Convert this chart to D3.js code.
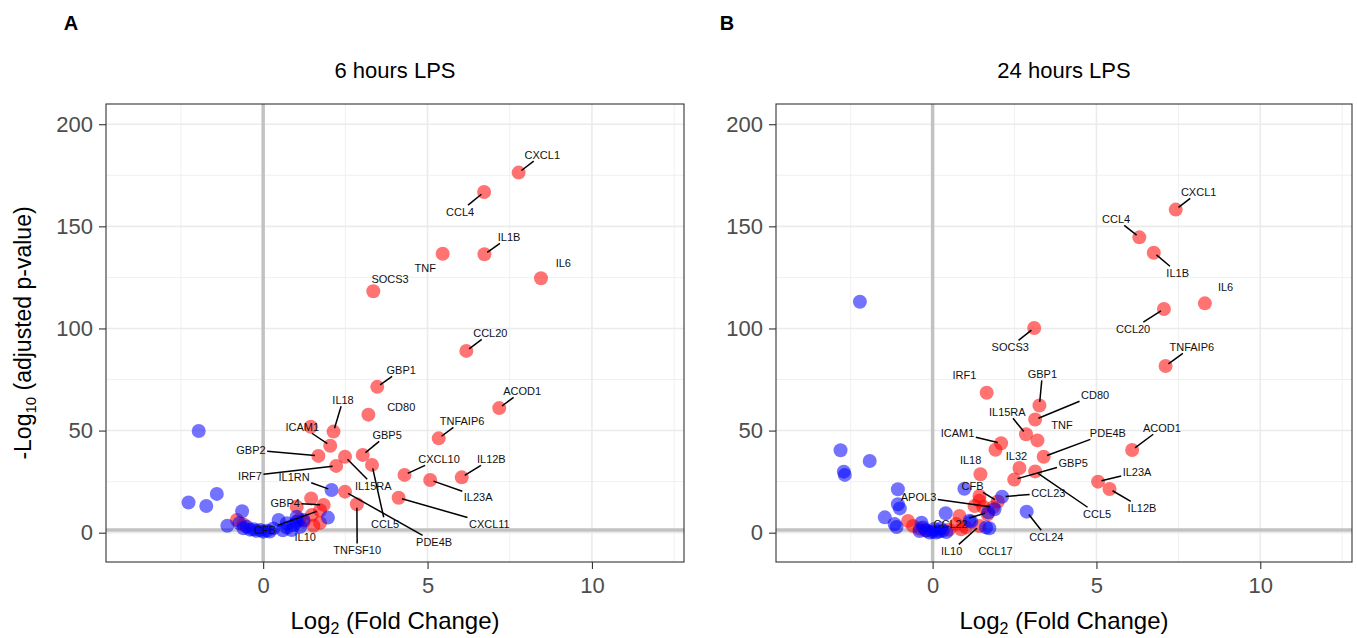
<!DOCTYPE html>
<html>
<head>
<meta charset="utf-8">
<script src="https://cdn.jsdelivr.net/npm/d3@7"></script>
<style>
  html, body { margin: 0; padding: 0; background: #ffffff; }
  svg { display: block; font-family: "Liberation Sans", Arial, Helvetica, sans-serif; }
</style>
</head>
<body>
<svg id="chart" width="1357" height="638"></svg>
<script>
// ---------------- DATA ----------------
const panelTitles = ["6 hours LPS", "24 hours LPS"];
const panelLetters = ["A", "B"];
const xTicks = [0, 5, 10];
const yTicks = [0, 50, 100, 150, 200];
const xMinorTicks = [-2.5, 2.5, 7.5, 12.5];
const yMinorTicks = [25, 75, 125, 175];
const pThreshold = 1.3; // -log10(0.05)

// labelled genes: [gene, log2FC, -log10 padj, group, label log2FC, label -log10 padj]
const labeled6h = [
  ["CXCL1", 7.77, 176.3, "r", 8.49, 185.0],
  ["CCL4", 6.72, 166.8, "r", 5.99, 157.1],
  ["TNF", 5.46, 136.6, "r", 4.93, 129.6],
  ["IL1B", 6.73, 136.3, "r", 7.48, 144.8],
  ["IL6", 8.45, 124.6, "r", 9.13, 132.1],
  ["SOCS3", 3.35, 118.2, "r", 3.86, 124.2],
  ["CCL20", 6.18, 89.0, "r", 6.91, 97.8],
  ["GBP1", 3.47, 71.4, "r", 4.20, 79.7],
  ["ACOD1", 7.18, 61.0, "r", 7.88, 69.4],
  ["CD80", 3.20, 57.8, "r", 4.20, 61.6],
  ["IL18", 2.14, 49.5, "r", 2.43, 65.0],
  ["ICAM1", 2.04, 42.6, "r", 1.19, 51.8],
  ["TNFAIP6", 5.34, 46.2, "r", 6.05, 54.7],
  ["GBP2", 1.68, 37.6, "r", -0.37, 40.5],
  ["GBP5", 3.03, 38.1, "r", 3.77, 47.8],
  ["IL15RA", 2.49, 37.2, "r", 3.35, 22.9],
  ["CCL5", 3.31, 33.2, "r", 3.71, 4.3],
  ["IRF7", 2.22, 32.7, "r", -0.40, 27.8],
  ["IL1RN", 2.08, 20.9, "b", 0.94, 27.3],
  ["PDE4B", 2.49, 20.1, "r", 5.20, -4.6],
  ["TNFSF10", 2.85, 13.9, "r", 2.86, -8.5],
  ["CXCL10", 4.30, 28.3, "r", 5.35, 36.1],
  ["IL12B", 6.04, 27.1, "r", 6.94, 36.1],
  ["IL23A", 5.08, 25.8, "r", 6.54, 17.5],
  ["CXCL11", 4.12, 17.1, "r", 6.88, 4.3],
  ["GBP4", 1.84, 13.6, "r", 0.67, 14.5],
  ["CFB", 1.73, 11.0, "r", 0.06, 1.3],
  ["IL10", 1.53, 3.4, "r", 1.28, -2.1]
];
const noSegment6h = ["TNF", "IL6", "SOCS3", "CD80", "IL10"];

// unlabelled genes: [log2FC, -log10 padj, group]
const other6h = [
  [1.45, 51.9, "r"], [1.46, 16.8, "r"], [1.02, 12.7, "r"], [1.23, 5.4, "r"],
  [1.48, 8.7, "r"], [1.73, 4.8, "r"], [1.10, 6.5, "r"], [-0.80, 6.2, "r"],
  [-0.60, 4.0, "r"],
  [-1.96, 49.8, "b"], [-2.27, 14.8, "b"], [-1.73, 13.1, "b"], [-1.41, 19.0, "b"],
  [-0.64, 10.5, "b"], [-1.09, 3.4, "b"], [1.97, 7.4, "b"], [0.47, 6.2, "b"],
  [0.72, 2.5, "b"], [1.02, 7.8, "b"], [0.93, 3.8, "b"], [1.13, 2.9, "b"],
  [0.87, 1.3, "b"], [0.72, 4.6, "b"], [1.23, 6.2, "b"], [-0.72, 4.6, "b"],
  [-0.60, 2.2, "b"], [-0.50, 2.9, "b"], [-0.40, 1.5, "b"], [-0.30, 1.7, "b"],
  [-0.20, 0.9, "b"], [-0.09, 1.3, "b"], [0.00, 0.5, "b"], [0.11, 1.0, "b"],
  [0.20, 0.6, "b"], [0.31, 2.1, "b"], [0.60, 1.2, "b"], [1.02, 5.4, "b"]
];

const labeled24h = [
  ["CXCL1", 7.42, 158.2, "r", 8.12, 166.8],
  ["CCL4", 6.31, 144.6, "r", 5.60, 153.6],
  ["IL1B", 6.75, 137.1, "r", 7.48, 127.2],
  ["IL6", 8.31, 112.3, "r", 8.94, 120.3],
  ["CCL20", 7.06, 109.5, "r", 6.12, 99.8],
  ["SOCS3", 3.10, 100.2, "r", 2.37, 90.9],
  ["TNFAIP6", 7.11, 81.6, "r", 7.91, 90.9],
  ["GBP1", 3.26, 62.3, "r", 3.35, 77.7],
  ["CD80", 3.13, 55.4, "r", 4.96, 67.4],
  ["IRF1", 1.65, 68.5, "r", 0.97, 77.2],
  ["IL15RA", 2.85, 48.2, "r", 2.28, 59.1],
  ["TNF", 3.20, 45.2, "r", 3.95, 52.7],
  ["PDE4B", 3.39, 37.2, "r", 5.35, 48.8],
  ["ICAM1", 2.09, 43.8, "r", 0.76, 48.8],
  ["IL18", 1.46, 28.6, "r", 1.16, 35.6],
  ["IL32", 2.65, 31.7, "r", 2.56, 37.6],
  ["GBP5", 2.49, 26.0, "r", 4.29, 34.1],
  ["CCL5", 3.13, 30.0, "r", 5.02, 9.2],
  ["ACOD1", 6.09, 40.5, "r", 7.00, 51.3],
  ["IL23A", 5.05, 25.0, "r", 6.24, 29.7],
  ["IL12B", 5.40, 21.4, "r", 6.39, 12.1],
  ["CFB", 1.99, 15.3, "r", 1.22, 22.9],
  ["CCL23", 2.12, 17.6, "b", 3.53, 19.4],
  ["APOL3", 1.85, 12.5, "r", -0.43, 17.5],
  ["CCL22", 1.70, 10.0, "b", 0.55, 4.3],
  ["IL10", 1.43, 3.3, "r", 0.58, -9.0],
  ["CCL17", 1.73, 2.2, "b", 1.92, -9.0],
  ["CCL24", 2.87, 10.3, "b", 3.47, -2.1]
];
const noSegment24h = ["IL6", "IRF1", "TNF", "IL18", "IL32", "CCL17"];

const other24h = [
  [1.92, 40.6, "r"], [1.43, 15.6, "r"], [1.55, 12.6, "r"], [1.68, 9.0, "r"],
  [0.82, 8.2, "r"], [0.87, 1.7, "r"], [-0.75, 5.7, "r"], [-0.60, 3.3, "r"],
  [-0.40, 2.0, "r"], [0.72, 4.2, "r"], [1.02, 2.6, "r"], [1.28, 13.1, "r"],
  [1.43, 18.0, "r"], [-0.20, 1.0, "r"], [0.50, 1.5, "r"],
  [-2.22, 113.1, "b"], [-2.81, 40.4, "b"], [-1.92, 35.1, "b"], [-2.71, 29.9, "b"],
  [-2.68, 28.3, "b"], [-1.06, 21.3, "b"], [-1.06, 13.9, "b"], [-1.00, 11.9, "b"],
  [-1.46, 7.5, "b"], [-1.16, 4.2, "b"], [-1.10, 2.8, "b"], [-0.34, 4.9, "b"],
  [0.40, 9.5, "b"], [1.18, 5.4, "b"], [0.97, 21.5, "b"], [1.89, 11.5, "b"],
  [1.63, 2.6, "b"], [1.13, 5.9, "b"], [-0.29, 2.6, "b"], [-0.20, 1.2, "b"],
  [-0.09, 0.1, "b"], [0.00, 0.5, "b"], [0.11, 0.1, "b"], [0.20, 0.6, "b"],
  [0.31, 1.0, "b"], [0.42, 0.3, "b"], [-0.40, 0.8, "b"], [0.05, 1.8, "b"],
  [0.25, 2.0, "b"]
];

const groupColors = { r: "#ff0000", b: "#0000ff" };

// ---------------- DRAW ----------------
const svg = d3.select("#chart");
const xDomain = [-4.78, 12.8];
const yDomain = [-14.35, 209.9];

const panels = [
  { left: 106, right: 684, labeled: labeled6h, others: other6h, noSeg: noSegment6h, letterX: 71 },
  { left: 776, right: 1352, labeled: labeled24h, others: other24h, noSeg: noSegment24h, letterX: 727 }
];
const plotTop = 104, plotBottom = 562;

panels.forEach((p, i) => {
  const x = d3.scaleLinear().domain(xDomain).range([p.left, p.right]);
  const y = d3.scaleLinear().domain(yDomain).range([plotBottom, plotTop]);
  const g = svg.append("g");

  // letter and title
  svg.append("text").attr("x", p.letterX).attr("y", 30)
    .attr("text-anchor", "middle").attr("font-weight", "bold")
    .attr("font-size", 20).attr("fill", "#000").text(panelLetters[i]);
  svg.append("text").attr("x", (p.left + p.right) / 2).attr("y", 78)
    .attr("text-anchor", "middle").attr("font-size", 22).attr("fill", "#000")
    .text(panelTitles[i]);

  // grid
  g.selectAll(".vminor").data(xMinorTicks).join("line")
    .attr("x1", d => x(d)).attr("x2", d => x(d)).attr("y1", plotTop).attr("y2", plotBottom)
    .attr("stroke", "#f0f0f0").attr("stroke-width", 1);
  g.selectAll(".hminor").data(yMinorTicks).join("line")
    .attr("y1", d => y(d)).attr("y2", d => y(d)).attr("x1", p.left).attr("x2", p.right)
    .attr("stroke", "#f0f0f0").attr("stroke-width", 1);
  g.selectAll(".vmajor").data(xTicks).join("line")
    .attr("x1", d => x(d)).attr("x2", d => x(d)).attr("y1", plotTop).attr("y2", plotBottom)
    .attr("stroke", "#ebebeb").attr("stroke-width", 1.6);
  g.selectAll(".hmajor").data(yTicks).join("line")
    .attr("y1", d => y(d)).attr("y2", d => y(d)).attr("x1", p.left).attr("x2", p.right)
    .attr("stroke", "#ebebeb").attr("stroke-width", 1.6);

  // reference lines
  g.append("line").attr("x1", x(0)).attr("x2", x(0)).attr("y1", plotTop).attr("y2", plotBottom)
    .attr("stroke", "#c2c2c2").attr("stroke-width", 3.5);
  g.append("line").attr("x1", p.left).attr("x2", p.right).attr("y1", y(pThreshold)).attr("y2", y(pThreshold))
    .attr("stroke", "#c2c2c2").attr("stroke-width", 3.5);

  // points
  const allPts = p.others.map(d => ({ fc: d[0], lp: d[1], grp: d[2] }))
    .concat(p.labeled.map(d => ({ fc: d[1], lp: d[2], grp: d[3] })));
  const ordered = allPts.filter(d => d.grp === "r").concat(allPts.filter(d => d.grp === "b"));
  g.selectAll(".pt").data(ordered).join("circle")
    .attr("cx", d => x(d.fc)).attr("cy", d => y(d.lp)).attr("r", 7)
    .attr("fill", d => groupColors[d.grp]).attr("fill-opacity", 0.55);

  // labels and segments
  const segG = g.append("g");
  const labG = g.append("g");
  p.labeled.forEach(d => {
    const px = x(d[1]), py = y(d[2]);
    const lx = x(d[4]), ly = y(d[5]);
    const t = labG.append("text").attr("x", lx).attr("y", ly).attr("dy", "0.35em")
      .attr("text-anchor", "middle").attr("font-size", 11).attr("fill", "#111").text(d[0]);
    if (p.noSeg.includes(d[0])) return;
    const bb = t.node().getBBox();
    const pad = 1.5;
    const bx0 = bb.x - pad, bx1 = bb.x + bb.width + pad;
    const by0 = bb.y - pad + 1, by1 = bb.y + bb.height + pad - 1;
    if (px >= bx0 && px <= bx1 && py >= by0 && py <= by1) return;
    const cx = bb.x + bb.width / 2, cy = bb.y + bb.height / 2;
    const dx = cx - px, dy = cy - py;
    let tx0 = -Infinity, ty0 = -Infinity;
    if (dx !== 0) { const a = (bx0 - px) / dx, b = (bx1 - px) / dx; tx0 = Math.min(a, b); }
    if (dy !== 0) { const a = (by0 - py) / dy, b = (by1 - py) / dy; ty0 = Math.min(a, b); }
    const tEnter = Math.max(tx0, ty0);
    const ex = px + dx * tEnter, ey = py + dy * tEnter;
    const len = Math.hypot(ex - px, ey - py);
    if (len < 8) return;
    const sx = px + (ex - px) / len * 3.5, sy = py + (ey - py) / len * 3.5;
    segG.append("line").attr("x1", sx).attr("y1", sy).attr("x2", ex).attr("y2", ey)
      .attr("stroke", "#000").attr("stroke-width", 1.5);
  });

  // border
  g.append("rect").attr("x", p.left).attr("y", plotTop)
    .attr("width", p.right - p.left).attr("height", plotBottom - plotTop)
    .attr("fill", "none").attr("stroke", "#333333").attr("stroke-width", 1.1);

  // axes
  const xAxis = d3.axisBottom(x).tickValues(xTicks).tickSize(7).tickPadding(8).tickFormat(d3.format("d"));
  const yAxis = d3.axisLeft(y).tickValues(yTicks).tickSize(7).tickPadding(6).tickFormat(d3.format("d"));
  const xa = svg.append("g").attr("transform", `translate(0,${plotBottom})`).call(xAxis);
  const ya = svg.append("g").attr("transform", `translate(${p.left},0)`).call(yAxis);
  [xa, ya].forEach(a => {
    a.select(".domain").remove();
    a.selectAll(".tick line").attr("stroke", "#333333").attr("stroke-width", 1.1);
    a.selectAll(".tick text").attr("fill", "#4d4d4d").attr("font-size", 22)
      .attr("font-family", "'Liberation Sans', Arial, sans-serif");
  });

  // x axis title
  const xt = svg.append("text").attr("x", (p.left + p.right) / 2).attr("y", 629)
    .attr("text-anchor", "middle").attr("font-size", 24).attr("fill", "#000");
  xt.append("tspan").text("Log");
  xt.append("tspan").attr("font-size", 16).attr("dy", 5).text("2");
  xt.append("tspan").attr("dy", -5).text(" (Fold Change)");
});

// y axis title (left panel only)
const yt = svg.append("text")
  .attr("transform", `translate(31,${(plotTop + plotBottom) / 2}) rotate(-90)`)
  .attr("text-anchor", "middle").attr("font-size", 23).attr("fill", "#000");
yt.append("tspan").text("-Log");
yt.append("tspan").attr("font-size", 15).attr("dy", 5).text("10");
yt.append("tspan").attr("dy", -5).text(" (adjusted p-value)");
</script>
</body>
</html>
